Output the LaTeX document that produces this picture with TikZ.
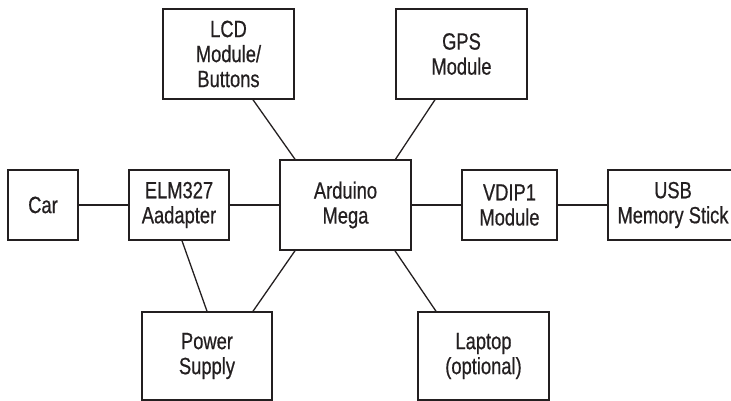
\documentclass[tikz,border=0pt]{standalone}
\usepackage{xcolor}
\usepackage{fontspec}
\setmainfont{Liberation Sans}[FakeStretch=0.78, FakeBold=0.6]
\usepackage{tikz}
\usetikzlibrary{positioning}
\definecolor{inkgrey}{HTML}{231F20}

\begin{document}
\begin{tikzpicture}[x=1pt, y=1pt,
    blk/.style={draw=inkgrey, line width=1.5pt, inner sep=0pt, align=center,
                font=\fontsize{23.5}{25}\selectfont, text=inkgrey},
    wire/.style={draw=inkgrey, line width=1.3pt}]
    \useasboundingbox (0,0) rectangle (731,401);
    % top row
    \node[blk, minimum width=131, minimum height=90] (lcd) at (228.5,347) {LCD\\Module/\\Buttons};
    \node[blk, minimum width=131, minimum height=90] (gps) at (461.5,347) {GPS\\Module};
    % middle row
    \node[blk, minimum width=70, minimum height=70] (car) at (43,196) {Car};
    \node[blk, minimum width=100, minimum height=70] (elm) at (179,196) {ELM327\\Aadapter};
    \node[blk, minimum width=131, minimum height=90] (ard) at (345.5,196) {Arduino\\Mega};
    \node[blk, minimum width=95, minimum height=70] (vdip) at (509.5,196) {VDIP1\\Module};
    \node[blk, minimum width=130, minimum height=70] (usb) at (673,196) {USB\\Memory Stick};
    % bottom row
    \node[blk, minimum width=130, minimum height=88] (pwr) at (207,45) {Power\\Supply};
    \node[blk, minimum width=131, minimum height=88] (lap) at (483.5,45) {Laptop\\(optional)};

    \draw[wire] (car) -- (elm);
    \draw[wire] (elm) -- (ard);
    \draw[wire] (ard) -- (vdip);
    \draw[wire] (vdip) -- (usb);
    \draw[wire] ([xshift=24.5]lcd.south) -- ([xshift=-50.5]ard.north);
    \draw[wire] ([xshift=-26.5]gps.south) -- ([xshift=50]ard.north);
    \draw[wire] ([xshift=3]elm.south) -- (pwr.north);
    \draw[wire] ([xshift=-50.5]ard.south) -- ([xshift=46]pwr.north);
    \draw[wire] ([xshift=49.5]ard.south) -- ([xshift=-47.5]lap.north);
  \end{tikzpicture}
\end{document}
